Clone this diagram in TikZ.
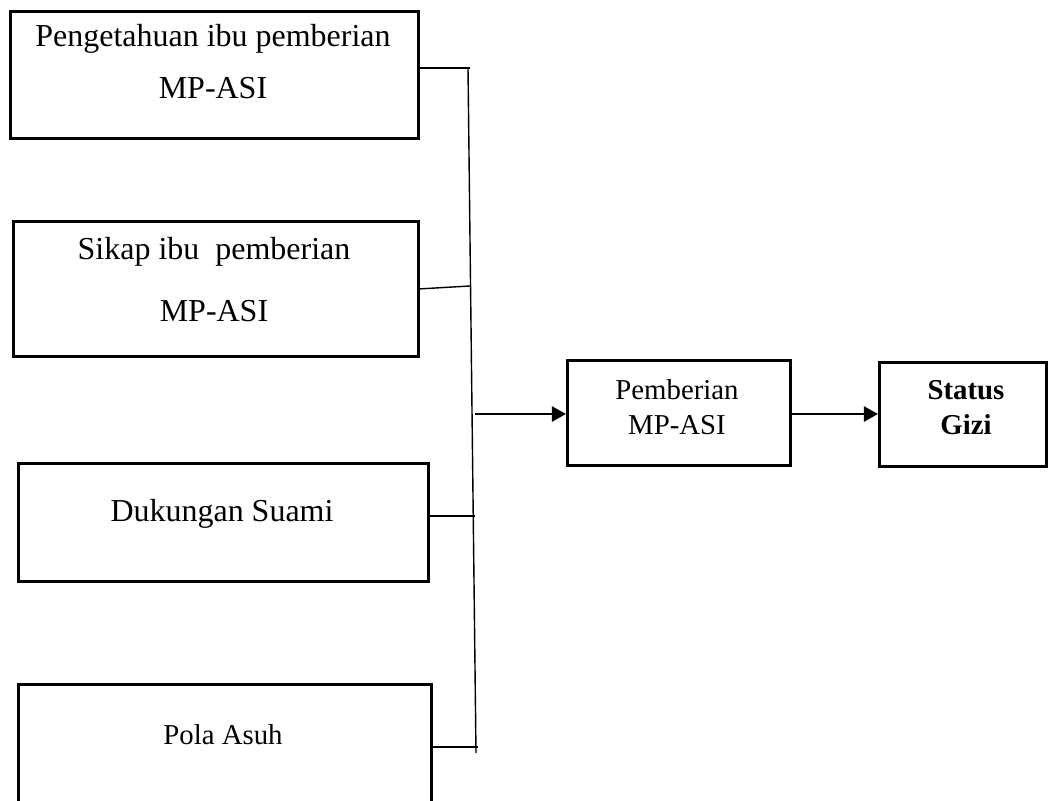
\documentclass[tikz,border=0pt]{standalone}
\usepackage{fontspec}
\setmainfont{Liberation Serif}
\usetikzlibrary{arrows.meta}

\begin{document}
\begin{tikzpicture}[x=0.02cm, y=-0.02cm,
    box/.style={draw, line width=1.6pt, rectangle, anchor=north west, inner sep=0pt},
    bigtext/.style={font=\fontsize{18.2}{29.6}\selectfont, align=center, inner sep=0pt},
    smalltext/.style={font=\fontsize{16.4}{19.9}\selectfont, align=center, inner sep=0pt},
    feed/.style={line width=0.8pt},
    flow/.style={line width=1.5pt, -{Triangle[length=8pt, width=8.5pt]}}]
\useasboundingbox (0,0) rectangle (1048,801);

% left column
\node[box, minimum width=8.16cm, minimum height=2.54cm] (b1) at (9,10) {};
\node[box, minimum width=8.1cm, minimum height=2.7cm] (b2) at (12,220) {};
\node[box, minimum width=8.2cm, minimum height=2.36cm] (b3) at (17,462) {};
\node[box, minimum width=8.26cm, minimum height=2.46cm] (b4) at (17,683) {};

\node[bigtext] (t1) at (213,62) {Pengetahuan ibu pemberian\\MP-ASI};
\node[bigtext, font=\fontsize{18.2}{35.3}\selectfont] (t2) at (214,280) {Sikap ibu\ \ pemberian\\MP-ASI};
\node[bigtext, anchor=base] (t3) at (222,521) {Dukungan Suami};
\node[smalltext, anchor=base] (t4) at (223,744) {Pola Asuh};

% right boxes
\node[box, minimum width=4.46cm, minimum height=2.1cm] (pm) at (566,359) {};
\node[box, minimum width=3.34cm, minimum height=2.08cm] (st) at (878,361) {};

\node[smalltext] (tp) at (677,407.5) {Pemberian\\MP-ASI};
\node[smalltext, font=\fontsize{16.4}{19.9}\selectfont\bfseries] (ts) at (966,408) {Status\\Gizi};

% bus
\coordinate (busTop) at (468,68);
\coordinate (busBot) at (476,753);
\coordinate (j1) at (470,68);
\coordinate (j2) at (470,286);
\coordinate (j3) at (475,516);
\coordinate (j4) at (478,747);
\coordinate (fork) at (475,414);

\draw[feed] (busTop) -- (busBot);
\draw[feed] (b1.east |- j1) -- (j1);
\draw[feed] (b2.east) -- (j2);
\draw[feed] (b3.east |- j3) -- (j3);
\draw[feed] (b4.east |- j4) -- (j4);

\draw[flow] (fork) -- (pm.west |- fork);
\draw[flow] (pm.east |- fork) -- (st.west |- fork);

\end{tikzpicture}
\end{document}
